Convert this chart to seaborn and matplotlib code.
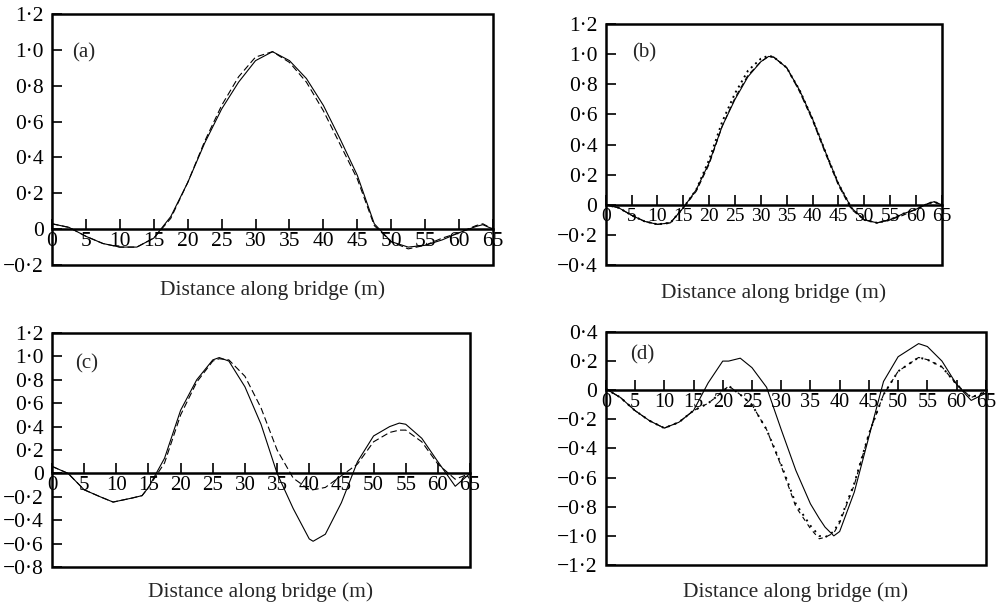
import numpy as np
import matplotlib
matplotlib.use("Agg")
import matplotlib.pyplot as plt
from matplotlib.patches import Rectangle
from matplotlib.ticker import FuncFormatter, MultipleLocator
import seaborn as sns

sns.set_style("ticks")
plt.rcParams["font.family"] = ["Liberation Serif", "DejaVu Serif"]

# ---------------- data ----------------
XA = [0, 2.5, 5, 7.5, 10, 12.5, 15, 17.5, 20, 22.5, 25, 27.5, 30, 32.5, 35, 37.5,
      40, 42.5, 45, 47.5, 50, 52.5, 55, 57.5, 60, 62.5, 63.5, 65]
A_solid = [0.03, 0.01, -0.04, -0.08, -0.10, -0.10, -0.05, 0.07, 0.26, 0.48, 0.67, 0.82,
           0.94, 0.99, 0.94, 0.84, 0.69, 0.50, 0.30, 0.03, -0.07, -0.10, -0.09, -0.06,
           -0.02, 0.015, 0.025, 0.0]
A_dashed = [0.03, 0.01, -0.04, -0.08, -0.10, -0.10, -0.05, 0.06, 0.26, 0.49, 0.69, 0.85,
            0.96, 0.99, 0.93, 0.82, 0.66, 0.47, 0.28, 0.02, -0.07, -0.11, -0.09, -0.05,
            -0.02, 0.02, 0.03, 0.0]

XB = [0, 2.5, 5, 7.5, 10, 12.5, 15, 17.5, 20, 22.5, 25, 27.5, 30, 31.5, 32.5, 35, 37.5,
      40, 42.5, 45, 47.5, 50, 52.5, 55, 57.5, 60, 62.5, 63.5, 65]
B_solid = [0.0, -0.02, -0.07, -0.11, -0.13, -0.12, -0.02, 0.10, 0.28, 0.52, 0.70, 0.85,
           0.95, 0.985, 0.98, 0.91, 0.76, 0.57, 0.35, 0.14, -0.02, -0.10, -0.12, -0.10,
           -0.06, -0.03, 0.01, 0.02, 0.0]
B_dashed = [0.0, -0.02, -0.07, -0.11, -0.13, -0.12, -0.02, 0.09, 0.27, 0.52, 0.71, 0.86,
            0.95, 0.985, 0.98, 0.91, 0.75, 0.56, 0.34, 0.13, -0.03, -0.10, -0.12, -0.10,
            -0.07, -0.03, 0.01, 0.02, 0.0]
B_dotted = [0.0, -0.02, -0.07, -0.11, -0.13, -0.12, -0.02, 0.10, 0.30, 0.55, 0.74, 0.89,
            0.97, 0.99, 0.98, 0.91, 0.76, 0.57, 0.35, 0.14, -0.02, -0.10, -0.12, -0.10,
            -0.06, -0.03, 0.01, 0.02, 0.0]

XC = [0, 2.5, 5, 7.5, 9.5, 12.5, 14, 15, 17.5, 20, 22.5, 25, 26, 27.5, 30, 32.5, 35,
      37.5, 40, 40.6, 42.5, 45, 47.5, 50, 52.5, 54, 55, 57.5, 60, 62.7, 65]
C_solid = [0.06, 0.0, -0.14, -0.20, -0.245, -0.21, -0.19, -0.12, 0.13, 0.54, 0.80, 0.97,
           0.99, 0.96, 0.74, 0.42, 0.0, -0.30, -0.56, -0.58, -0.52, -0.25, 0.10, 0.32,
           0.40, 0.43, 0.42, 0.30, 0.10, -0.11, 0.0]
C_dashed = [0.06, 0.0, -0.14, -0.20, -0.245, -0.21, -0.19, -0.12, 0.09, 0.50, 0.78, 0.96,
            0.98, 0.97, 0.83, 0.56, 0.20, -0.04, -0.14, -0.14, -0.12, -0.02, 0.08, 0.27,
            0.35, 0.37, 0.37, 0.27, 0.08, -0.05, 0.0]

XD = [0, 2.5, 5, 7.5, 10, 12.5, 15, 17.5, 20, 21, 23, 25, 27.5, 30, 32.5, 35, 36.5,
      37.5, 39, 40, 42.5, 45, 47.5, 50, 53.5, 55, 57.5, 60, 62.5, 65]
D_solid = [0.01, -0.05, -0.14, -0.21, -0.26, -0.22, -0.14, 0.05, 0.20, 0.20, 0.22, 0.155,
           0.02, -0.27, -0.55, -0.78, -0.88, -0.94, -1.0, -0.97, -0.70, -0.32, 0.06, 0.23,
           0.32, 0.30, 0.20, 0.04, -0.07, -0.02]
D_dashed = [0.01, -0.05, -0.14, -0.21, -0.26, -0.22, -0.14, -0.09, -0.01, 0.03, -0.03, -0.10,
            -0.27, -0.52, -0.80, -0.95, -1.02, -1.01, -0.98, -0.91, -0.65, -0.30, -0.03,
            0.13, 0.225, 0.21, 0.16, 0.04, -0.05, -0.01]
D_dotted = [0.01, -0.05, -0.14, -0.21, -0.26, -0.22, -0.14, -0.09, -0.01, 0.03, -0.03, -0.10,
            -0.27, -0.51, -0.78, -0.93, -1.0, -1.01, -0.97, -0.90, -0.64, -0.30, -0.03,
            0.13, 0.225, 0.21, 0.16, 0.04, -0.05, -0.01]

X_TICKS = [0, 5, 10, 15, 20, 25, 30, 35, 40, 45, 50, 55, 60, 65]
XLABEL = "Distance along bridge (m)"

# ---------------- figure ----------------
fig = plt.figure(figsize=(10.08, 6.07), dpi=100)


def yfmt(v, pos):
    if abs(v) < 1e-9:
        return "0"
    s = f"{abs(v):.1f}".replace(".", "\u00b7")
    return ("\u2212" if v < 0 else "") + s


def setup(ax, ylim, tag, tagpos, labely, xsize, ysize=15.5):
    ax.set_xlim(0, 65)
    ax.set_ylim(*ylim)
    ax.set_xticks(X_TICKS)
    ax.yaxis.set_major_locator(MultipleLocator(0.2))
    ax.yaxis.set_major_formatter(FuncFormatter(yfmt))
    for s in ["top", "left", "right"]:
        ax.spines[s].set_visible(False)
    ax.spines["bottom"].set_position(("data", 0))
    ax.spines["bottom"].set_linewidth(1.8)
    ax.spines["bottom"].set_color("black")
    ax.add_patch(Rectangle((0, 0), 1, 1, transform=ax.transAxes, fill=False,
                           lw=1.8, ec="black", clip_on=False, zorder=5))
    ax.tick_params(axis="x", direction="in", length=7, width=1.2, pad=2,
                   labelsize=xsize, top=False, colors="black")
    ax.tick_params(axis="y", direction="in", length=7, width=1.2, pad=6,
                   labelsize=ysize, right=False, colors="black")
    ax.set_xlabel(XLABEL, fontsize=15.5)
    ax.xaxis.set_label_coords(0.5, labely)
    ax.xaxis.label.set_va("center")
    ax.text(tagpos[0], tagpos[1], tag, transform=ax.transAxes, fontsize=15,
            va="center", ha="left")
    ax.grid(False)


def line(ax, x, y, style, lw=0.8):
    sns.lineplot(x=x, y=y, ax=ax, color="black", linewidth=lw, linestyle=style,
                 sort=False, estimator=None)


axA = fig.add_axes([0.0516, 0.5634, 0.4375, 0.4135])
line(axA, XA, A_solid, "-")
line(axA, XA, A_dashed, (0, (6, 3)))
setup(axA, (-0.2, 1.2), "(a)", (0.045, 0.845), -0.10, 15.5)

axB = fig.add_axes([0.601, 0.5634, 0.3333, 0.397])
line(axB, XB, B_solid, "-")
line(axB, XB, B_dashed, (0, (5, 3)))
line(axB, XB, B_dotted, (0, (1, 2)), lw=1.4)
setup(axB, (-0.4, 1.2), "(b)", (0.077, 0.88), -0.116, 14)

axC = fig.add_axes([0.0516, 0.0659, 0.4147, 0.3855])
line(axC, XC, C_solid, "-")
line(axC, XC, C_dashed, (0, (6, 3)))
setup(axC, (-0.8, 1.2), "(c)", (0.055, 0.87), -0.107, 15)

axD = fig.add_axes([0.601, 0.0692, 0.377, 0.3839])
line(axD, XD, D_solid, "-")
line(axD, XD, D_dashed, (0, (4, 4)))
line(axD, XD, D_dotted, (0, (1, 2.5)), lw=1.4)
setup(axD, (-1.2, 0.4), "(d)", (0.063, 0.90), -0.116, 14.5)

fig.savefig("out.png", dpi=100, facecolor="white")
